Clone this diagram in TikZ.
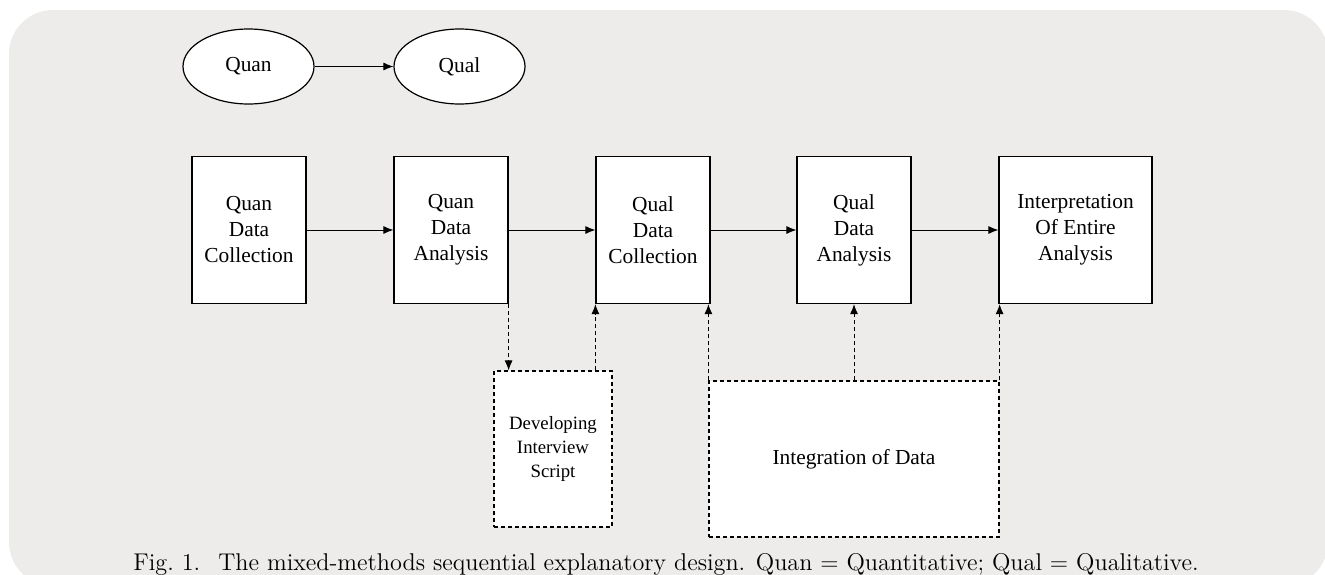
\documentclass[tikz,border=0pt]{standalone}
\usepackage{fontspec}
\newfontfamily\timesfont{Liberation Serif}
\definecolor{panelgray}{RGB}{237,236,234}
\usepackage{tikz}
\usetikzlibrary{arrows.meta, positioning, shapes.geometric}

\begin{document}
\begin{tikzpicture}[x=0.5pt, y=-0.5pt,
		stagebox/.style={draw, fill=white, semithick, minimum width=57pt, minimum height=73.5pt, inner sep=1pt, align=center, font=\timesfont\fontsize{10.7}{13}\selectfont},
		phase/.style={ellipse, draw, fill=white, semithick, minimum width=65.5pt, minimum height=37.5pt, font=\timesfont\fontsize{10.7}{13}\selectfont},
		sidebox/.style={draw, fill=white, semithick, dashed, dash pattern=on 2pt off 1.5pt, align=center},
		flow/.style={line width=0.5pt, -{Latex[length=5pt, width=4pt]}},
		feed/.style={flow, dash pattern=on 2pt off 1.5pt}]
			\useasboundingbox (0,0) rectangle (1325,574);
			\fill[panelgray, rounded corners=22pt] (9,10) rectangle (1328,586);
			
			\node[phase] (quan) at (248.5,66.5) {Quan};
			\node[phase] (qual) at (459.5,66.5) {Qual};
			\draw[flow] (quan) -- (qual);
			
			\node[stagebox] (quancol) at (249,230) {Quan\\Data\\Collection};
			\node[stagebox] (quanana) at (451,230) {Quan\\Data\\Analysis};
			\node[stagebox] (qualcol) at (653,230) {Qual\\Data\\Collection};
			\node[stagebox] (qualana) at (854,230) {Qual\\Data\\Analysis};
			\node[stagebox, minimum width=76.5pt] (interp) at (1075.5,230) {Interpretation\\Of Entire\\Analysis};
			
			\draw[flow] (quancol) -- (quanana);
			\draw[flow] (quanana) -- (qualcol);
			\draw[flow] (qualcol) -- (qualana);
			\draw[flow] (qualana) -- (interp);
			
			\node[sidebox, minimum width=59pt, minimum height=78pt, font=\timesfont\fontsize{9.4}{12}\selectfont] (script) at (553,449) {Developing\\Interview\\Script};
			\node[sidebox, minimum width=145pt, minimum height=78pt, font=\timesfont\fontsize{10.7}{13}\selectfont] (integ) at (854,459) {Integration of Data};
			
			\draw[feed] (quanana.south east) -- (quanana.south east |- script.north);
			\draw[feed] (script.north -| qualcol.south west) -- (qualcol.south west);
			\draw[feed] (integ.north west) -- (integ.north west |- qualcol.south);
			\draw[feed] (integ.north) -- (qualana.south);
			\draw[feed] (integ.north east) -- (integ.north east |- interp.south);
			
			\node[anchor=base, inner sep=0pt, font=\fontsize{12.1}{14}\selectfont] (caption) at (666,570) {Fig.~1.\hspace{0.75em}The mixed-methods sequential explanatory design. Quan $=$ Quantitative; Qual $=$ Qualitative.};
		\end{tikzpicture}
\end{document}
